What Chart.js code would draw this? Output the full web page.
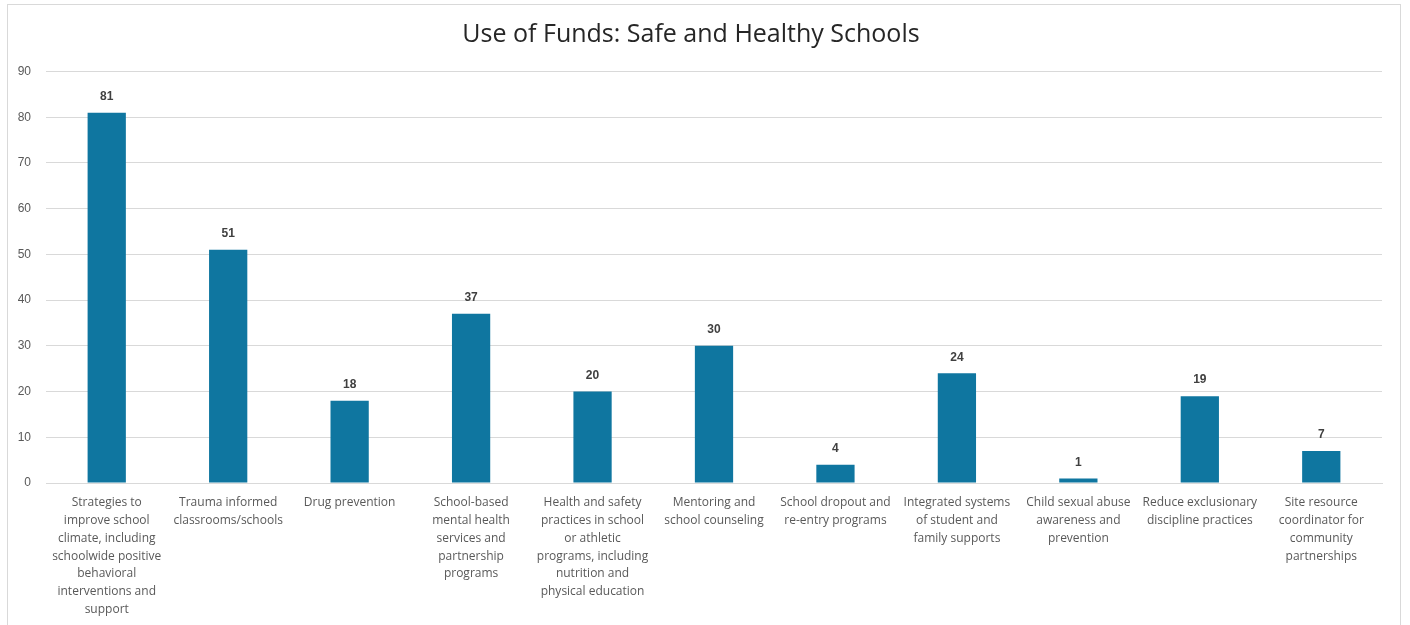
<!DOCTYPE html>
<html lang="en">
<head>
    <title>Use of Funds: Safe and Healthy Schools</title>
    <meta charset="UTF-8">
    <script src="https://cdn.jsdelivr.net/npm/chart.js"></script>
    <style>
        body {
            margin: 0;
            background: #fff;
            overflow: hidden;
        }

        .frame {
            position: absolute;
            left: 7px;
            top: 4px;
            width: 1392px;
            height: 700px;
            border: 1px solid #d9d9d9;
        }

        canvas {
            position: absolute;
            left: 0;
            top: 0;
        }
    </style>
</head>

<body>
<div class="frame"></div>
<canvas id="fundsChart" width="1410" height="625"></canvas>

<script>
    // data
    const categories = [
        ["Strategies to", "improve school", "climate, including", "schoolwide positive", "behavioral", "interventions and", "support"],
        ["Trauma informed", "classrooms/schools"],
        ["Drug prevention"],
        ["School-based", "mental health", "services and", "partnership", "programs"],
        ["Health and safety", "practices in school", "or athletic", "programs, including", "nutrition and", "physical education"],
        ["Mentoring and", "school counseling"],
        ["School dropout and", "re-entry programs"],
        ["Integrated systems", "of student and", "family supports"],
        ["Child sexual abuse", "awareness and", "prevention"],
        ["Reduce exclusionary", "discipline practices"],
        ["Site resource", "coordinator for", "community", "partnerships"]
    ];
    const counts = [81, 51, 18, 37, 20, 30, 4, 24, 1, 19, 7];

    // value labels above the bars
    const valueLabels = {
        id: 'valueLabels',
        afterDatasetsDraw(chart) {
            const ctx = chart.ctx;
            const meta = chart.getDatasetMeta(0);
            ctx.save();
            ctx.font = 'bold 12px "Liberation Sans Narrow", "Liberation Sans", sans-serif';
            ctx.fillStyle = '#404040';
            ctx.textAlign = 'center';
            ctx.textBaseline = 'bottom';
            meta.data.forEach(function (bar, i) {
                ctx.fillText(String(counts[i]), bar.x, bar.y - 10);
            });
            ctx.restore();
        }
    };

    const ctx = document.getElementById('fundsChart').getContext('2d');
    new Chart(ctx, {
        type: 'bar',
        data: {
            labels: categories,
            datasets: [{
                data: counts,
                backgroundColor: '#0f76a0',
                borderWidth: 0,
                categoryPercentage: 1,
                barPercentage: 0.315
            }]
        },
        options: {
            responsive: false,
            animation: false,
            layout: {
                padding: {left: 0, right: 28, top: 0, bottom: 0}
            },
            plugins: {
                legend: {display: false},
                tooltip: {enabled: false},
                title: {
                    display: true,
                    text: 'Use of Funds: Safe and Healthy Schools',
                    color: '#262626',
                    font: {family: '"Open Sans", sans-serif', size: 25, weight: 'normal', lineHeight: 1.3},
                    padding: {top: 19, bottom: 20}
                }
            },
            scales: {
                x: {
                    grid: {display: false, drawTicks: false},
                    border: {display: true, color: '#d9d9d9', width: 1},
                    ticks: {
                        color: '#595959',
                        font: {family: '"Open Sans", sans-serif', size: 12, lineHeight: 1.48},
                        maxRotation: 0,
                        minRotation: 0,
                        autoSkip: false,
                        padding: 11
                    },
                    afterFit(scale) {
                        scale.height = 142;
                    }
                },
                y: {
                    min: 0,
                    max: 90,
                    ticks: {
                        stepSize: 10,
                        color: '#595959',
                        font: {family: '"Liberation Sans Narrow", "Liberation Sans", sans-serif', size: 12},
                        padding: 15
                    },
                    grid: {color: '#d9d9d9', drawTicks: false},
                    border: {display: false},
                    afterFit(scale) {
                        scale.width = 46;
                    }
                }
            }
        },
        plugins: [valueLabels]
    });
</script>
</body>
</html>
